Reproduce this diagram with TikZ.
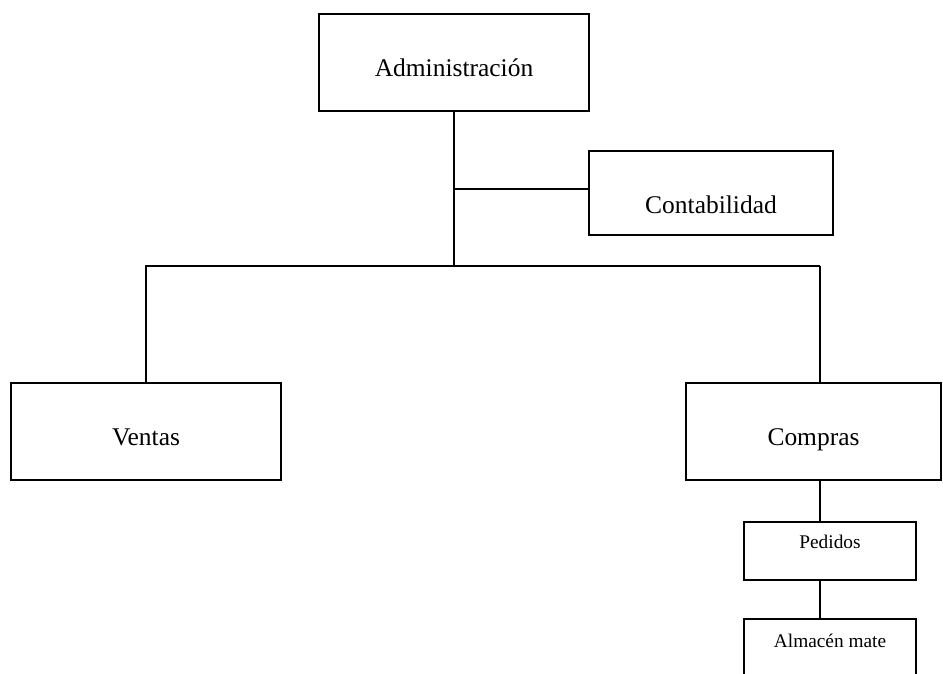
\documentclass[tikz,border=0pt]{standalone}
\usepackage{fontspec}
\setmainfont{Liberation Serif}
\usepackage{tikz}

\tikzset{
  caja/.style={draw, line width=0.9pt, inner sep=0pt},
  grande/.style={font=\fontsize{14.5}{17}\selectfont},
  chica/.style={font=\fontsize{11}{13}\selectfont},
  linea/.style={line width=0.9pt}
}

\begin{document}
\begin{tikzpicture}[x=0.02cm, y=-0.02cm]
            \useasboundingbox (0,0) rectangle (943,673);

            \node[caja, grande, minimum width=5.4cm, minimum height=1.94cm, text height=0.58cm, text depth=0cm] (admin) at (454,62.4) {Administración};
            \node[caja, grande, minimum width=4.88cm, minimum height=1.68cm, text height=0.8cm, text depth=0cm] (conta) at (711,193) {Contabilidad};
            \node[caja, grande, minimum width=5.4cm, minimum height=1.94cm, text height=0.54cm, text depth=0cm] (ventas) at (146,431.5) {Ventas};
            \node[caja, grande, minimum width=5.1cm, minimum height=1.94cm, text height=0.54cm, text depth=0cm] (compras) at (813.5,431.5) {Compras};
            \node[caja, chica, minimum width=3.44cm, minimum height=1.16cm, text height=0cm, text depth=0.12cm] (pedidos) at (830,551) {Pedidos};
            \node[caja, chica, minimum width=3.44cm, minimum height=1.16cm, text height=0cm, text depth=0.04cm] (almacen) at (830,648) {Almacén mate};

            \coordinate (bus) at (454,266);
            \coordinate (busR) at (820,266);

            \draw[linea]  (admin.south) -- (bus);
            \draw[linea]  (admin.south |- conta.west) ++(0,-4) coordinate (rama) -- (rama -| conta.west);
            \draw[linea]  (ventas.north) |- (busR);
            \draw[linea]  (busR) -- (busR |- compras.north);
            \draw[linea]  (busR |- compras.south) -- (busR |- pedidos.north);
            \draw[linea]  (busR |- pedidos.south) -- (busR |- almacen.north);
        \end{tikzpicture}
\end{document}
